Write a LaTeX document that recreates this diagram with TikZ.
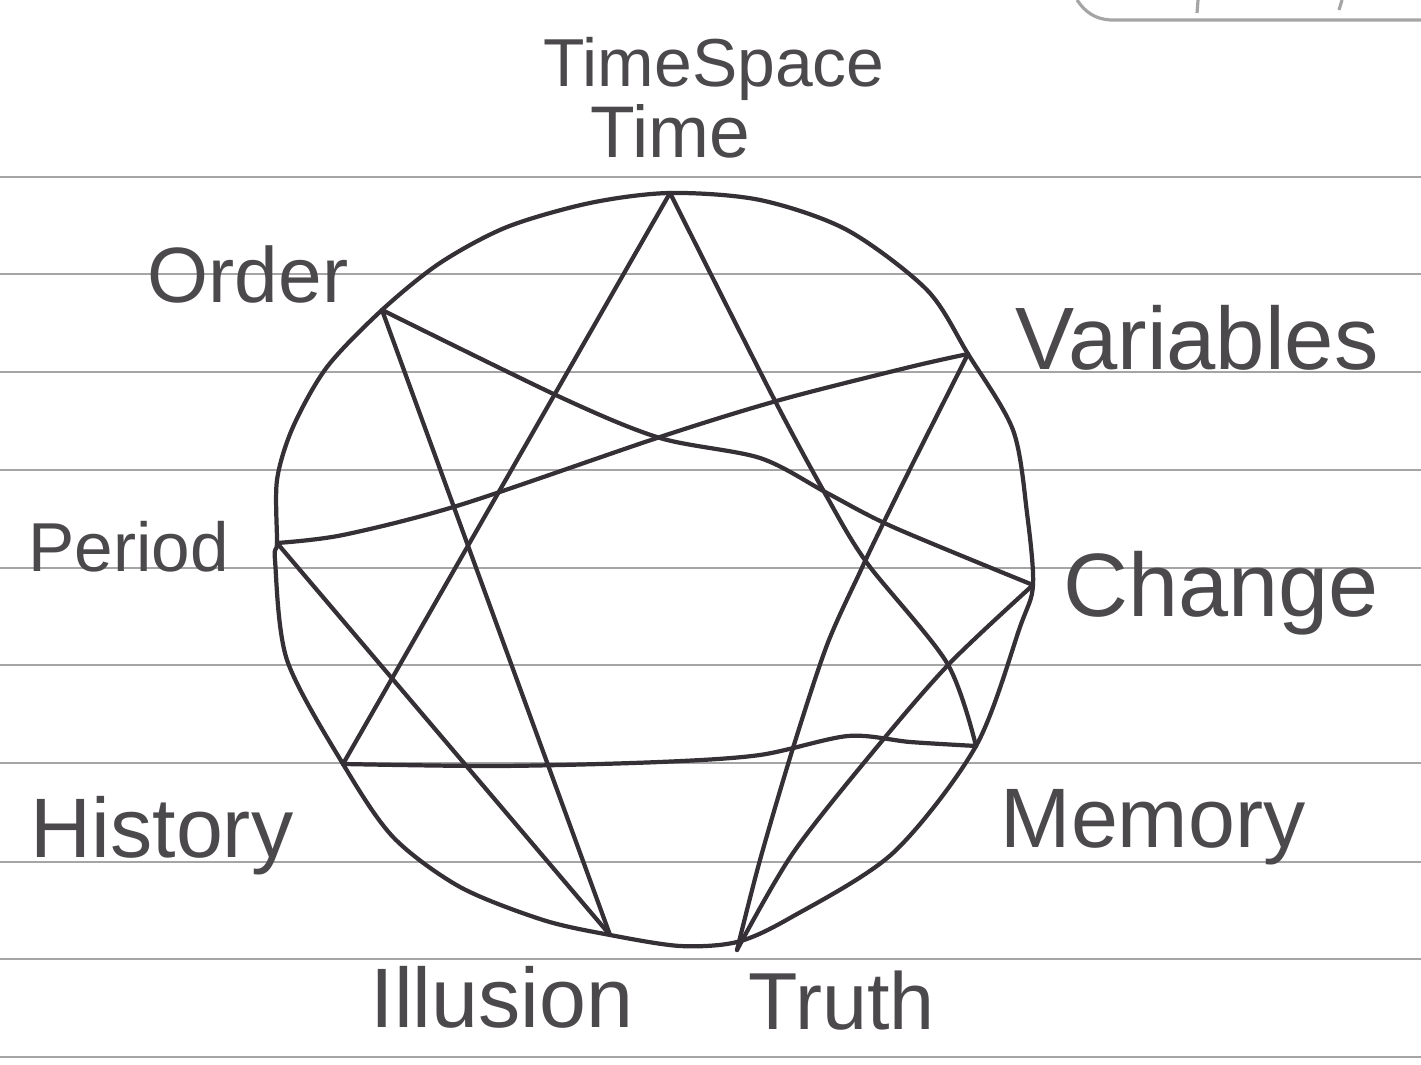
\documentclass[tikz,border=0pt]{standalone}
\usepackage{fontspec}
\setmainfont{Liberation Sans}
\definecolor{ink}{HTML}{353035}
\definecolor{rulegray}{HTML}{A5A5A5}
\definecolor{pen}{HTML}{4C494C}
\begin{document}
\begin{tikzpicture}[x=0.01cm,y=-0.01cm,
  inkline/.style={draw=ink, line width=1.2pt, line cap=round, line join=round},
  ruled/.style={draw=rulegray, line width=0.8pt},
  lbl/.style={inner sep=0pt, anchor=base west, text=pen},
]
\useasboundingbox[fill=white] (0,0) rectangle (1421,1065);
% ruled paper
\foreach \yy in {177,274,372,470,568,665,763,862,959,1057}
  \draw[ruled] (0,\yy) -- (1421,\yy);
% partial box at top right
\draw[ruled, line width=0.9pt] (1077,0) .. controls (1085,12) and (1095,19) .. (1110,20) -- (1421,20);
\draw[ruled, line width=0.9pt] (1198,0) -- (1197,13);
\draw[ruled, line width=0.9pt] (1342,0) -- (1339,10);

% enneagram points
\coordinate (T) at (670,193);
\coordinate (V) at (968,354);
\coordinate (C) at (1033,585);
\coordinate (M) at (976,746);
\coordinate (Tr) at (737,950);
\coordinate (I) at (610,935);
\coordinate (H) at (343,764);
\coordinate (P) at (277,543);
\coordinate (O) at (382,310);

% circle
\draw[inkline] plot[smooth cycle, tension=0.5] coordinates {
  (T) (760,200) (847,230) (927,290) (V) (1013,430) (1027,513) (C)
  (1020,627) (M) (893,853) (790,918) (737,942) (680,946) (I) (543,920)
  (460,887) (393,837) (H) (287,660) (275,560) (P) (277,480) (293,427)
  (327,367) (O) (440,263) (507,227) (590,203)};

% triangle
\draw[inkline] (T) -- (H);
\draw[inkline] plot[smooth, tension=0.5] coordinates {(T) (773,397) (827,497) (867,563) (947,663) (M)};
\draw[inkline] plot[smooth, tension=0.5] coordinates {(H) (500,766) (660,762) (760,755) (848,736) (910,742) (M)};

% hexad
\draw[inkline] plot[smooth, tension=0.5] coordinates {(O) (560,397) (660,438) (760,458) (827,493) (893,527) (C)};
\draw[inkline] (O) -- (I);
\draw[inkline] (P) -- (I);
\draw[inkline] plot[smooth, tension=0.5] coordinates {(P) (343,535) (460,505) (660,437) (780,400) (910,367) (V)};
\draw[inkline] plot[smooth, tension=0.5] coordinates {(V) (913,463) (880,530) (860,572) (827,645) (793,748) (760,860) (Tr)};
\draw[inkline] plot[smooth, tension=0.5] coordinates {(Tr) (793,853) (877,747) (950,663) (C)};

% labels
\node[lbl, font=\fontsize{19.3}{23}\selectfont] (ts) at (543,87) {TimeSpace};
\node[lbl, font=\fontsize{20.8}{25}\selectfont] (tl) at (590,158) {Time};
\node[lbl, font=\fontsize{22.3}{27}\selectfont] (ol) at (147,303) {Order};
\node[lbl, font=\fontsize{25.2}{30}\selectfont] (vl) at (1015,370) {Variables};
\node[lbl, font=\fontsize{19.7}{24}\selectfont] (pl) at (28,572) {Period};
\node[lbl, font=\fontsize{25.6}{30}\selectfont] (cl) at (1063,617) {Change};
\node[lbl, font=\fontsize{24}{29}\selectfont] (hl) at (30,858) {History};
\node[lbl, font=\fontsize{24}{29}\selectfont] (ml) at (1000,848) {Memory};
\node[lbl, font=\fontsize{24}{29}\selectfont] (il) at (370,1028) {Illusion};
\node[lbl, font=\fontsize{23}{28}\selectfont] (trl) at (748,1030) {Truth};
\end{tikzpicture}
\end{document}
